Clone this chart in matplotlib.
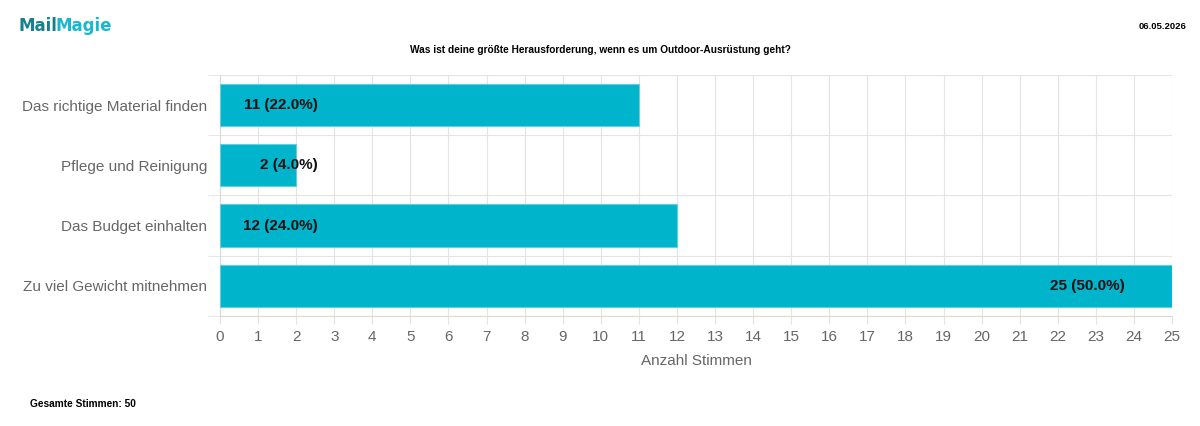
import matplotlib.pyplot as plt
import numpy as np

plt.rcParams['font.family'] = ['Liberation Sans', 'DejaVu Sans']

# Daten
categories = ['Das richtige Material finden', 'Pflege und Reinigung',
              'Das Budget einhalten', 'Zu viel Gewicht mitnehmen']
votes = [11, 2, 12, 25]
total = 50
x_ticks = list(range(0, 26))

bar_color = '#00b4cc'
grid_color = '#e4e4e4'
text_gray = '#666666'

fig = plt.figure(figsize=(12, 4.26), dpi=100)
ax = fig.add_axes([0.1833, 0.2582, 0.7934, 0.566])

y = np.arange(len(categories))
ax.barh(y, votes, height=0.7, color=bar_color, edgecolor='#5fd0de', linewidth=0.8, zorder=3)

# Beschriftungen in den Balken
label_right = [2.57, 2.57, 2.57, 23.77]
for yi, v, xr in zip(y, votes, label_right):
    ax.text(xr, yi, f'{v} ({v / total * 100:.1f}%)', ha='right', va='center',
            fontsize=11, fontweight='bold', color='#111111', zorder=4)

ax.set_xlim(0, 25)
ax.set_ylim(len(categories) - 0.5, -0.5)
ax.set_xticks(x_ticks)
ax.set_yticks(y)
ax.set_yticklabels(categories)
ax.set_yticks(np.arange(-0.5, len(categories)), minor=True)

ax.grid(True, axis='x', color=grid_color, linewidth=0.8, zorder=0)
ax.grid(True, axis='y', which='minor', color=grid_color, linewidth=0.8, zorder=0)
ax.tick_params(axis='x', colors=grid_color, labelcolor=text_gray, labelsize=11, length=6, pad=4)
ax.tick_params(axis='y', which='major', length=0, labelcolor=text_gray, labelsize=11, pad=9)
ax.tick_params(axis='y', which='minor', length=9, color=grid_color)

for side in ['top', 'right']:
    ax.spines[side].set_visible(False)
ax.spines['left'].set_color('#d8d8d8')
ax.spines['bottom'].set_color('#e0d8cc')

ax.set_xlabel('Anzahl Stimmen', color=text_gray, fontsize=11, labelpad=7)

# Kopf- und Fußzeile
logo = fig.text(0.015, 0.94, 'Mail', fontsize=12, fontweight='bold', color='#17808f',
                va='center', family=['DejaVu Sans'])
fig.canvas.draw()
ax.annotate('Magie', xy=(1, 0), xycoords=logo, xytext=(-1, 0), textcoords='offset points',
            fontsize=12, fontweight='bold', color='#1ab8d0', va='bottom',
            family=['DejaVu Sans'], annotation_clip=False)
fig.text(0.989, 0.937, '06.05.2026', fontsize=6.8, fontweight='bold', ha='right', va='center')
fig.text(0.5, 0.883, 'Was ist deine größte Herausforderung, wenn es um Outdoor-Ausrüstung geht?',
         fontsize=7.3, fontweight='bold', ha='center', va='center')
fig.text(0.025, 0.052, 'Gesamte Stimmen: 50', fontsize=7.3, fontweight='bold', va='center')

fig.savefig('out.png', dpi=100)
